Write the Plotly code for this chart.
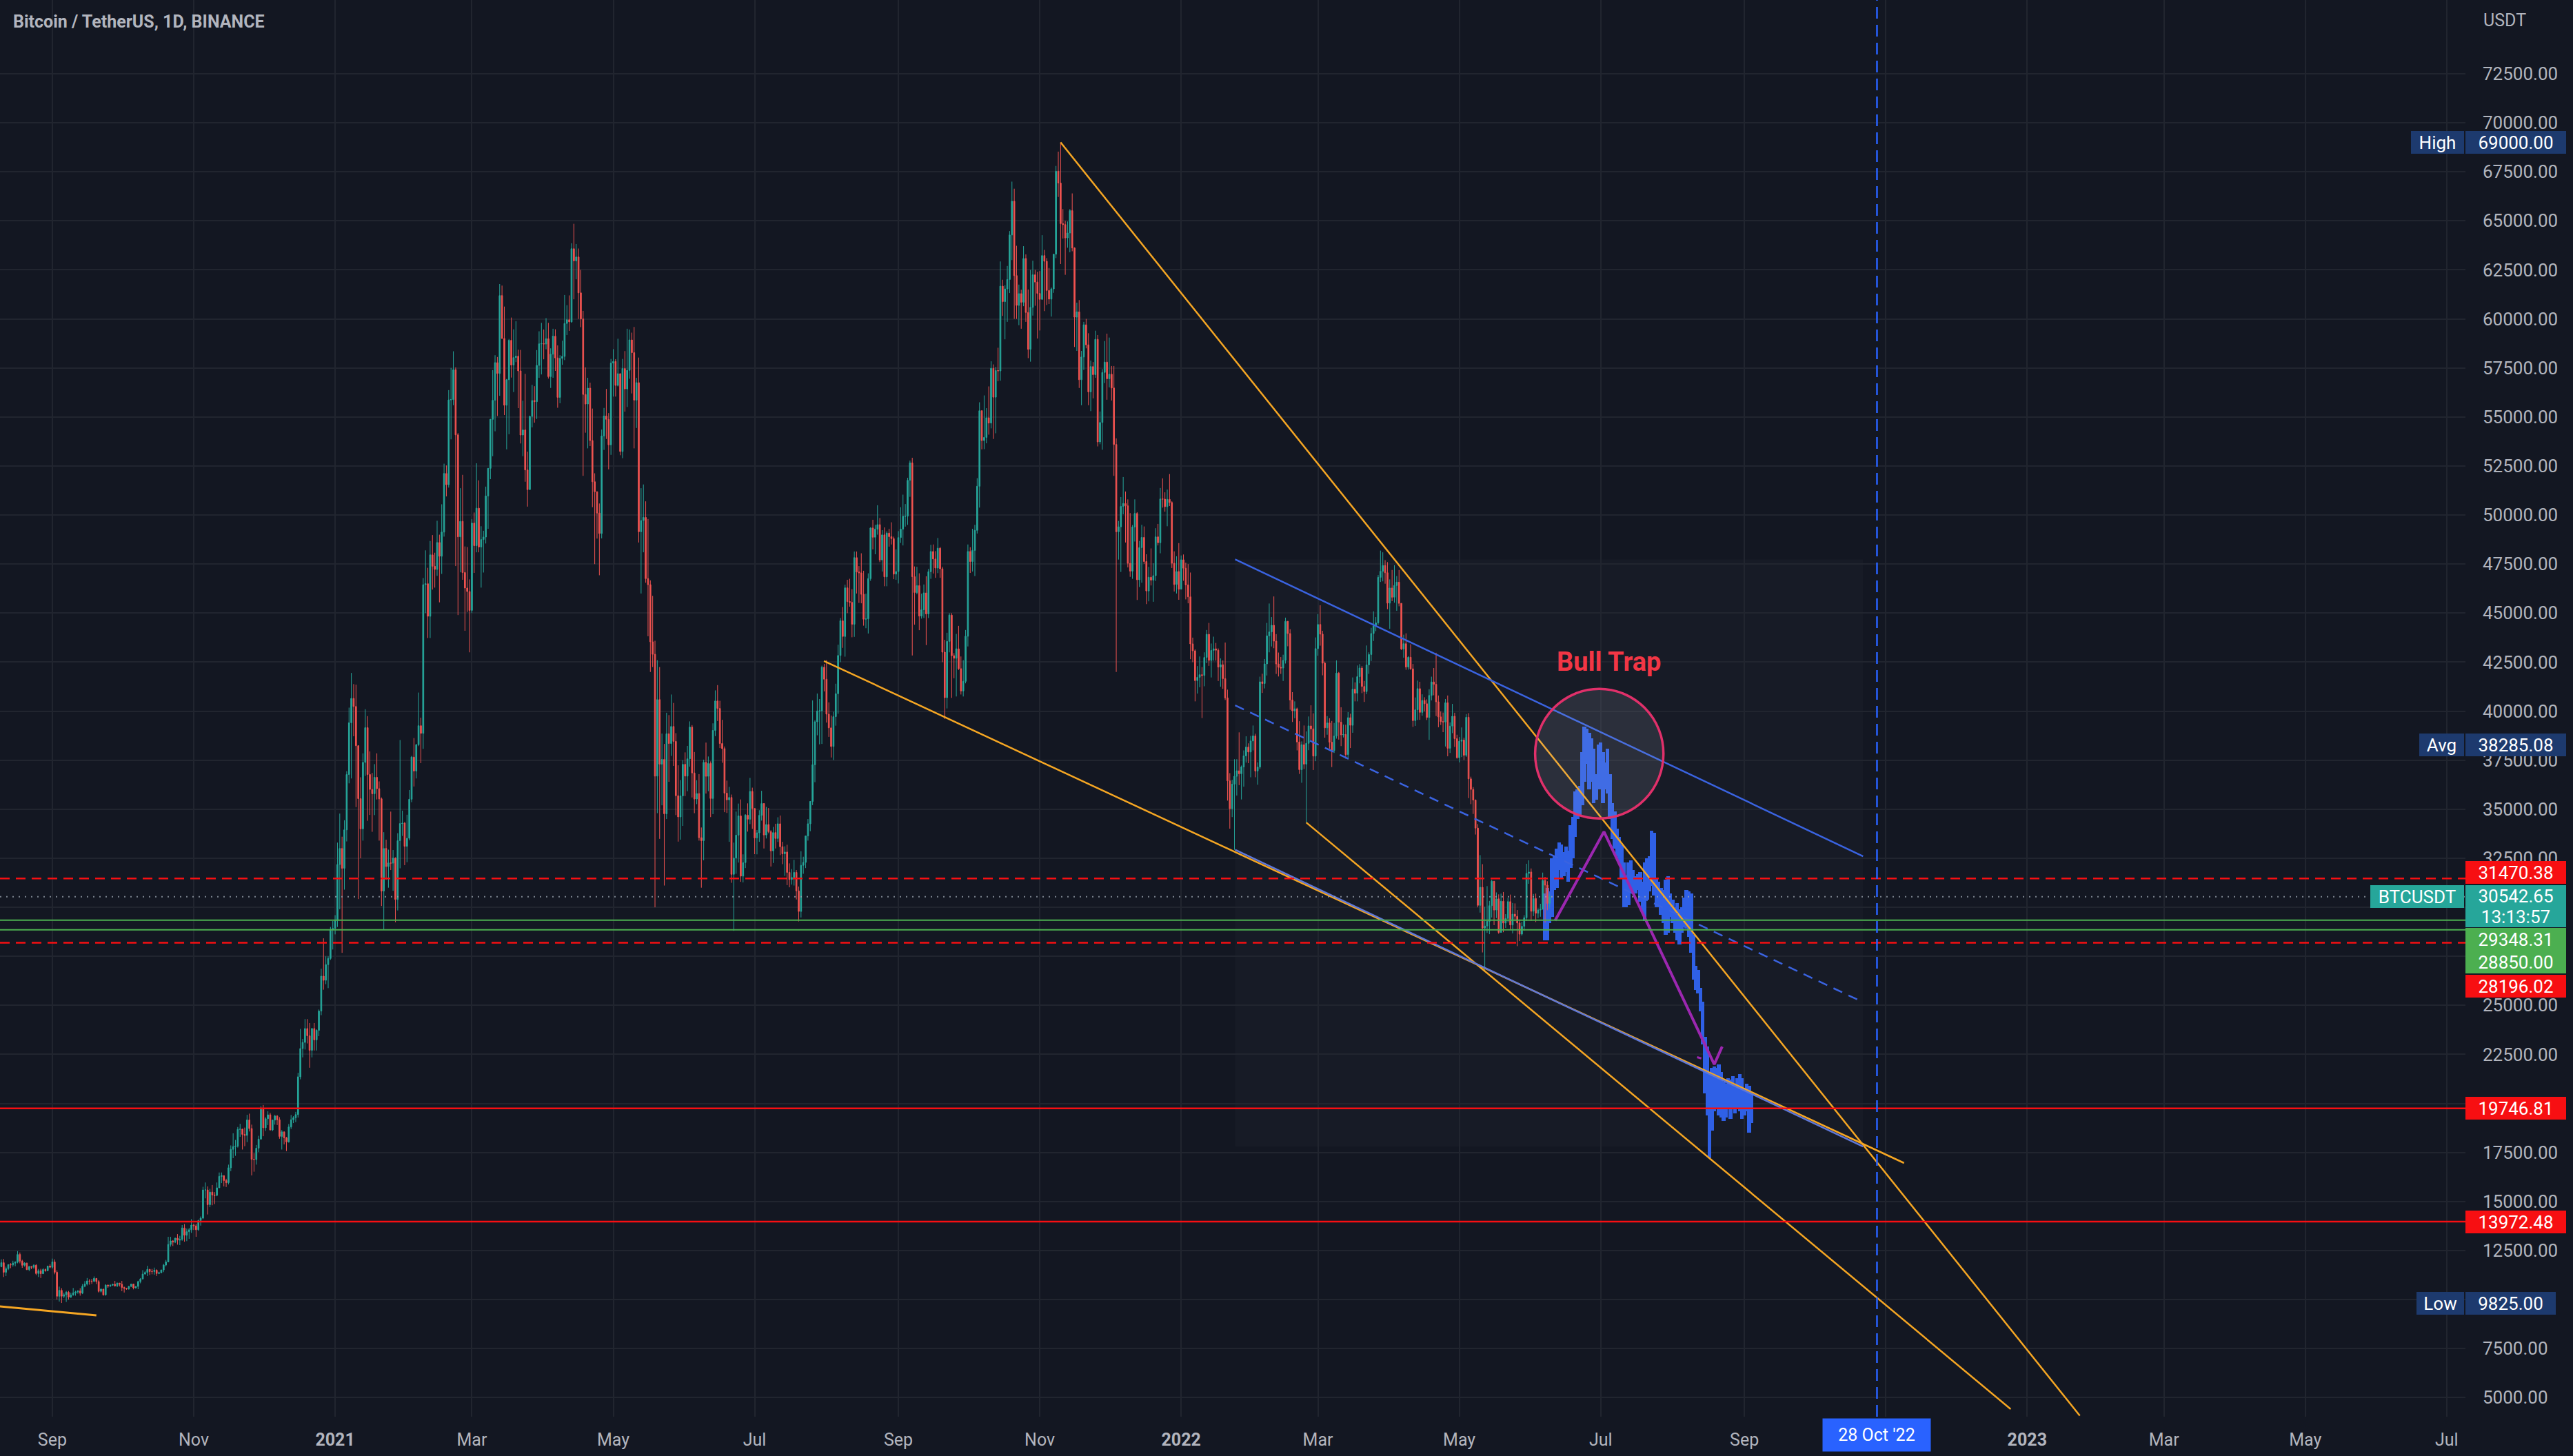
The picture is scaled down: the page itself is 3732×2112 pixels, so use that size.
import pandas as pd
import plotly.graph_objects as go

# ---------------------------------------------------------------- data
# daily BTC/USDT candles, prices in thousands of USDT, starting 2020-08-09
start_date = "2020-08-09"
first_open = 11.75
closes = [
    # 2020-08 (9..31)
    11.68, 11.88, 11.39, 11.58, 11.78, 11.77, 11.86, 11.91, 12.30, 11.96, 11.75, 11.86, 11.53, 11.68, 11.65, 11.75, 11.33, 11.47, 11.32, 11.53, 11.47, 11.71, 11.65,
    # 2020-09
    11.92, 11.39, 10.17, 10.47, 10.17, 10.25, 10.37, 10.13, 10.23, 10.34, 10.39, 10.44, 10.33, 10.68, 10.79, 10.95, 10.94, 10.93, 11.08, 10.92, 10.42, 10.53, 10.24, 10.74, 10.69, 10.73, 10.78, 10.70, 10.84, 10.78,
    # 2020-10
    10.62, 10.57, 10.55, 10.67, 10.79, 10.60, 10.67, 10.92, 11.05, 11.30, 11.38, 11.54, 11.43, 11.43, 11.50, 11.33, 11.37, 11.51, 11.76, 11.92, 12.81, 12.99, 12.93, 13.13, 13.03, 13.07, 13.65, 13.28, 13.46, 13.56, 13.80,
    # 2020-11
    13.76, 13.56, 14.03, 14.15, 15.59, 15.59, 14.84, 15.48, 15.33, 15.31, 15.70, 16.28, 16.32, 16.07, 15.96, 16.72, 17.66, 17.80, 17.82, 18.68, 18.69, 18.42, 18.37, 19.16, 18.72, 17.15, 17.14, 17.72, 18.18, 19.70,
    # 2020-12
    18.76, 19.22, 19.42, 18.65, 19.15, 19.36, 19.17, 18.32, 18.55, 18.25, 18.04, 18.80, 19.17, 19.27, 19.43, 21.36, 22.80, 23.11, 23.82, 23.45, 22.71, 23.82, 23.24, 23.73, 24.71, 26.49, 26.28, 27.08, 27.39, 28.88, 28.92,
    # 2021-01
    29.33, 32.18, 33.00, 31.99, 33.95, 36.77, 39.41, 40.65, 40.24, 38.24, 35.54, 34.00, 37.39, 39.16, 36.77, 36.01, 35.79, 36.63, 36.05, 35.53, 30.83, 33.00, 32.08, 32.26, 32.25, 32.51, 30.40, 33.40, 34.27, 34.29, 33.11,
    # 2021-02
    33.52, 35.51, 37.66, 36.95, 38.29, 39.26, 38.87, 46.45, 46.50, 44.84, 47.97, 47.39, 47.23, 48.60, 47.90, 49.13, 52.12, 51.55, 55.87, 55.89, 57.41, 54.09, 48.89, 49.68, 47.07, 46.28, 46.10, 45.14,
    # 2021-03
    49.59, 48.44, 50.35, 48.37, 48.75, 48.88, 50.97, 52.38, 54.88, 55.85, 57.77, 57.22, 61.19, 59.00, 55.60, 56.90, 58.91, 57.65, 58.03, 58.10, 57.35, 54.08, 54.34, 52.30, 51.30, 55.03, 55.84, 55.78, 57.63, 58.73, 58.74,
    # 2021-04
    58.72, 58.99, 57.06, 58.20, 59.12, 58.01, 56.00, 57.99, 58.09, 59.77, 59.96, 59.85, 63.58, 62.96, 63.16, 61.33, 60.00, 56.15, 55.66, 56.47, 53.80, 51.70, 51.19, 50.10, 49.06, 54.03, 55.05, 54.88, 53.58, 57.75,
    # 2021-05
    57.83, 56.61, 57.21, 53.24, 57.47, 56.43, 57.38, 58.93, 58.28, 55.86, 56.75, 49.15, 49.72, 49.88, 46.76, 46.45, 43.54, 42.90, 36.69, 40.59, 37.30, 37.54, 34.77, 38.85, 38.35, 39.22, 38.46, 35.69, 34.61, 35.68, 37.29,
    # 2021-06
    36.69, 37.57, 39.19, 36.85, 35.52, 35.80, 33.55, 33.40, 37.39, 36.68, 37.33, 35.55, 39.02, 40.52, 40.14, 38.35, 38.09, 35.82, 35.48, 35.60, 31.68, 32.51, 33.68, 34.66, 31.59, 32.28, 34.70, 34.49, 35.91, 35.04,
    # 2021-07
    33.54, 33.80, 34.69, 35.29, 33.69, 34.22, 33.86, 32.88, 33.81, 33.51, 34.26, 33.09, 32.73, 32.82, 31.78, 31.42, 31.52, 31.78, 30.84, 29.79, 32.14, 32.29, 33.64, 34.26, 35.40, 37.27, 39.46, 40.01, 40.02, 42.24, 41.63,
    # 2021-08
    39.85, 39.15, 38.20, 39.72, 40.89, 42.84, 44.61, 43.81, 46.29, 45.59, 45.55, 44.43, 47.83, 47.10, 47.05, 45.96, 44.69, 44.71, 46.76, 49.34, 48.87, 49.28, 49.51, 47.71, 48.99, 46.85, 49.08, 48.90, 48.80, 46.99, 47.12,
    # 2021-09
    48.85, 49.28, 49.94, 49.94, 51.77, 52.66, 46.86, 46.05, 46.40, 44.85, 45.17, 46.03, 44.96, 47.11, 48.14, 47.76, 47.30, 48.31, 47.26, 43.01, 40.69, 43.56, 44.90, 42.83, 42.70, 43.18, 42.17, 41.03, 41.52, 43.82,
    # 2021-10
    48.14, 47.63, 48.20, 49.22, 51.47, 55.32, 53.80, 53.96, 54.96, 54.69, 57.48, 56.01, 57.37, 57.35, 61.67, 60.88, 61.53, 62.01, 64.28, 66.00, 62.21, 60.69, 61.29, 60.85, 63.08, 60.33, 58.45, 60.59, 62.25, 61.88, 61.30,
    # 2021-11
    61.00, 63.23, 62.94, 61.45, 61.01, 61.53, 63.30, 67.53, 66.93, 64.86, 64.81, 64.13, 64.38, 65.52, 63.62, 60.09, 60.36, 56.90, 58.06, 59.70, 58.68, 56.28, 57.57, 57.16, 58.96, 53.73, 54.72, 57.27, 57.80, 56.95,
    # 2021-12
    57.18, 56.48, 53.60, 49.15, 49.40, 50.44, 50.59, 50.47, 47.54, 47.14, 49.39, 50.08, 46.70, 48.34, 48.86, 47.63, 46.13, 46.83, 46.68, 46.91, 48.89, 48.59, 50.82, 50.81, 50.43, 50.80, 50.64, 47.54, 46.46, 47.12, 46.22,
    # 2022-01
    47.72, 47.29, 46.44, 45.83, 43.43, 43.08, 41.56, 41.73, 41.86, 41.82, 42.74, 43.92, 42.59, 43.10, 43.18, 43.11, 42.25, 42.37, 41.66, 40.68, 36.45, 35.03, 36.28, 36.68, 36.96, 36.81, 37.16, 37.72, 38.17, 37.92, 38.48,
    # 2022-02
    38.74, 36.95, 37.15, 41.50, 41.41, 42.41, 43.84, 44.04, 44.38, 43.57, 42.41, 42.24, 42.20, 42.59, 44.58, 43.96, 40.57, 40.02, 40.12, 38.43, 37.02, 38.29, 37.30, 38.36, 39.25, 39.10, 37.71, 43.19,
    # 2022-03
    44.42, 43.93, 42.45, 39.15, 39.40, 38.42, 37.99, 38.73, 41.94, 39.44, 38.79, 38.81, 37.79, 39.67, 39.28, 41.12, 40.92, 41.76, 42.20, 41.26, 41.00, 42.36, 42.89, 43.96, 44.35, 44.50, 46.82, 47.13, 47.43, 47.06, 45.51,
    # 2022-04
    46.28, 45.81, 46.41, 46.58, 45.50, 43.17, 43.44, 42.25, 42.75, 42.16, 39.52, 40.07, 41.15, 39.94, 40.55, 40.38, 39.68, 40.80, 41.49, 41.37, 40.48, 39.71, 39.47, 39.45, 40.43, 38.11, 39.24, 39.74, 38.60, 37.63,
    # 2022-05
    38.47, 38.53, 37.75, 39.69, 36.55, 36.01, 35.47, 34.04, 30.10, 31.02, 28.94, 29.05, 29.28, 30.08, 31.33, 29.86, 30.43, 28.72, 30.31, 29.20, 29.43, 30.29, 29.10, 29.65, 29.54, 29.20, 28.63, 29.03, 29.47, 31.73, 31.80,
    # 2022-06 (1..9)
    29.80, 30.45, 29.70, 29.86, 29.91, 31.37, 31.13, 30.20, 30.54265,
]
highs = [
    11.80, 12.05, 12.07, 11.68, 11.80, 11.86, 11.98, 11.95, 12.47, 12.40, 12.03, 11.90, 11.88, 11.72, 11.71, 11.80, 11.80, 11.56, 11.57, 11.60, 11.58, 11.72, 11.80,
    12.09, 12.05, 11.49, 10.66, 10.58, 10.35, 10.44, 10.44, 10.35, 10.59, 10.45, 10.48, 10.58, 10.79, 10.94, 11.10, 11.04, 11.05, 11.18, 11.08, 10.99, 10.58, 10.55, 10.78, 10.76, 10.78, 10.80, 10.95, 10.86, 10.85,
    10.95, 10.66, 10.60, 10.70, 10.80, 10.80, 10.68, 10.96, 11.10, 11.50, 11.45, 11.72, 11.56, 11.56, 11.63, 11.54, 11.42, 11.52, 11.82, 12.02, 13.20, 13.20, 13.03, 13.15, 13.34, 13.25, 13.80, 13.85, 13.62, 13.65, 14.10,
    13.86, 13.86, 14.07, 14.24, 15.75, 15.97, 15.77, 15.65, 15.84, 15.48, 15.97, 16.48, 16.48, 16.33, 16.16, 16.88, 17.86, 18.48, 18.14, 18.80, 18.96, 18.70, 18.77, 19.42, 19.48, 18.92, 17.46, 17.88, 18.35, 19.86,
    19.92, 19.30, 19.60, 19.52, 19.17, 19.42, 19.40, 19.30, 18.64, 18.56, 18.29, 18.95, 19.41, 19.35, 19.57, 21.56, 23.80, 23.29, 24.30, 24.30, 24.10, 23.84, 24.10, 23.78, 24.79, 26.87, 28.42, 27.50, 27.50, 29.00, 29.30,
    29.60, 33.30, 34.78, 33.60, 34.44, 36.94, 40.18, 41.95, 41.38, 41.35, 38.26, 36.63, 37.85, 40.10, 39.75, 37.95, 36.85, 37.30, 37.85, 36.42, 35.60, 33.83, 33.45, 32.94, 34.88, 32.92, 32.55, 33.78, 38.53, 34.93, 34.35,
    34.72, 35.98, 37.72, 38.63, 38.33, 40.95, 39.67, 46.79, 48.20, 47.31, 48.68, 48.98, 48.08, 49.71, 49.00, 50.55, 52.62, 52.53, 56.37, 57.50, 58.35, 57.53, 54.18, 51.37, 52.05, 48.40, 48.37, 46.72,
    49.79, 50.13, 52.64, 51.77, 49.43, 49.20, 51.45, 52.40, 54.90, 57.39, 58.15, 58.06, 61.78, 61.70, 60.63, 56.94, 58.98, 60.07, 59.47, 59.88, 58.43, 58.42, 55.83, 57.20, 53.23, 55.07, 56.64, 56.57, 58.41, 59.37, 59.80,
    59.46, 60.04, 59.80, 58.50, 59.50, 59.47, 58.65, 58.15, 58.89, 61.22, 60.70, 61.20, 63.86, 64.85, 63.82, 63.59, 62.50, 60.41, 57.53, 57.00, 56.75, 55.43, 52.13, 51.17, 50.59, 54.36, 55.46, 56.43, 55.20, 57.96,
    58.46, 57.95, 58.99, 57.20, 57.96, 58.36, 59.50, 59.46, 59.30, 59.59, 57.00, 58.03, 51.37, 51.56, 50.70, 49.80, 46.67, 45.88, 43.59, 42.60, 42.25, 38.86, 38.33, 39.92, 39.80, 40.85, 40.42, 38.88, 37.24, 36.49, 37.50,
    37.90, 38.23, 39.48, 39.29, 37.92, 36.48, 36.79, 34.07, 37.53, 38.40, 37.69, 37.44, 39.38, 41.06, 41.33, 40.53, 39.56, 38.20, 36.46, 36.14, 35.75, 33.30, 34.88, 35.29, 35.50, 32.70, 34.75, 35.30, 36.60, 36.10,
    35.04, 33.94, 34.95, 35.94, 35.29, 35.12, 35.06, 33.93, 34.10, 34.26, 34.59, 34.68, 33.34, 33.11, 33.19, 32.24, 31.95, 32.42, 31.90, 31.06, 32.86, 32.58, 33.65, 34.50, 35.40, 40.55, 39.54, 40.90, 40.62, 42.32, 42.41,
    42.60, 40.45, 39.78, 39.97, 41.40, 43.39, 44.75, 45.31, 46.45, 46.70, 46.75, 46.22, 48.14, 48.14, 47.40, 48.05, 47.16, 45.99, 47.03, 49.38, 49.76, 49.50, 50.50, 49.85, 49.23, 49.37, 49.17, 49.30, 49.63, 48.90, 48.25,
    49.18, 50.40, 51.04, 50.56, 51.90, 52.78, 52.92, 47.38, 47.36, 47.03, 45.99, 46.46, 46.88, 47.25, 48.48, 48.50, 48.16, 48.83, 48.37, 47.36, 43.64, 44.00, 45.00, 45.00, 42.96, 43.94, 44.35, 42.79, 42.60, 44.14,
    48.50, 48.36, 49.30, 49.50, 51.88, 55.75, 55.33, 56.10, 55.45, 56.56, 57.84, 57.68, 57.55, 58.53, 62.93, 62.00, 61.72, 62.70, 64.48, 67.00, 66.64, 63.73, 61.75, 61.49, 63.71, 63.29, 61.50, 62.50, 62.97, 62.50, 62.40,
    62.44, 64.27, 63.52, 63.10, 62.60, 61.60, 63.30, 67.80, 68.53, 69.00, 65.60, 65.00, 64.97, 65.60, 66.40, 63.65, 60.83, 60.96, 58.37, 59.85, 60.00, 59.27, 57.88, 57.80, 59.40, 59.18, 55.28, 57.44, 58.87, 59.25,
    59.05, 57.60, 57.60, 53.91, 49.70, 50.92, 51.94, 51.20, 50.80, 50.10, 49.49, 50.80, 50.15, 48.68, 49.50, 49.42, 48.00, 47.36, 48.30, 47.54, 49.33, 49.55, 51.38, 51.87, 51.16, 51.30, 52.09, 50.70, 48.15, 47.90, 48.57,
    47.94, 47.99, 47.57, 47.50, 47.07, 43.75, 43.15, 42.30, 42.79, 42.25, 43.00, 44.14, 44.50, 43.45, 43.80, 43.48, 43.20, 42.69, 42.59, 43.50, 41.10, 36.84, 36.50, 37.55, 37.55, 38.92, 37.23, 38.00, 38.72, 38.36, 38.74,
    39.27, 38.85, 37.39, 41.76, 41.91, 42.66, 44.50, 45.49, 44.80, 45.85, 43.93, 42.99, 42.76, 42.88, 44.77, 44.60, 44.18, 40.97, 40.50, 40.18, 39.49, 38.46, 39.27, 38.97, 39.73, 40.30, 39.89, 43.76,
    44.95, 45.40, 44.10, 42.53, 39.75, 39.64, 39.50, 39.40, 42.59, 42.00, 40.20, 39.32, 39.31, 39.95, 39.87, 41.72, 41.47, 42.33, 42.40, 42.30, 41.54, 43.35, 43.00, 44.25, 45.09, 44.80, 46.94, 48.19, 48.10, 47.70, 47.60,
    46.72, 47.20, 47.44, 46.89, 47.20, 45.50, 43.90, 43.97, 42.80, 43.41, 42.41, 40.70, 41.56, 41.50, 40.86, 40.71, 40.60, 41.12, 41.76, 42.20, 42.98, 40.80, 39.99, 39.93, 40.62, 40.80, 39.43, 40.37, 39.92, 38.80,
    38.68, 39.17, 38.65, 39.85, 39.90, 36.66, 36.13, 35.50, 34.24, 32.66, 32.20, 30.03, 31.08, 30.33, 31.41, 31.32, 30.76, 30.66, 30.70, 30.78, 29.65, 30.48, 30.65, 30.22, 30.20, 29.86, 29.38, 29.26, 29.60, 32.22, 32.40,
    31.98, 30.68, 30.70, 29.95, 30.18, 31.77, 31.55, 31.33, 30.70,
]
lows = [
    11.55, 11.65, 11.15, 11.20, 11.50, 11.60, 11.68, 11.70, 11.85, 11.85, 11.62, 11.68, 11.50, 11.45, 11.55, 11.57, 11.25, 11.15, 11.10, 11.30, 11.42, 11.46, 11.60,
    11.58, 11.29, 10.00, 9.90, 9.825, 10.08, 9.88, 10.00, 10.08, 10.20, 10.20, 10.30, 10.20, 10.28, 10.63, 10.72, 10.76, 10.80, 10.89, 10.79, 10.36, 10.36, 10.20, 10.20, 10.60, 10.64, 10.70, 10.66, 10.64, 10.67,
    10.43, 10.36, 10.50, 10.50, 10.64, 10.52, 10.56, 10.53, 10.83, 11.05, 11.28, 11.20, 11.25, 11.29, 11.27, 11.20, 11.30, 11.34, 11.40, 11.69, 11.90, 12.70, 12.73, 12.88, 12.80, 12.78, 13.00, 12.95, 12.98, 13.10, 13.40,
    13.55, 13.20, 13.51, 13.77, 14.10, 15.16, 14.34, 14.71, 14.81, 14.87, 15.27, 15.73, 15.94, 15.77, 15.74, 15.87, 16.55, 17.21, 17.33, 17.75, 18.30, 17.65, 17.82, 18.03, 18.57, 16.33, 16.52, 16.88, 17.52, 18.17,
    18.33, 18.60, 18.90, 18.62, 18.59, 18.92, 18.90, 18.20, 17.65, 17.91, 17.57, 18.00, 18.70, 19.00, 19.05, 19.28, 21.23, 22.35, 22.75, 23.06, 21.82, 22.35, 22.70, 22.70, 23.43, 24.50, 25.80, 26.08, 25.88, 27.32, 27.85,
    28.62, 29.00, 29.90, 27.68, 30.90, 33.36, 36.32, 36.57, 38.72, 35.11, 30.42, 32.50, 33.40, 36.70, 34.41, 34.71, 33.85, 34.70, 35.50, 33.40, 30.07, 28.85, 31.40, 31.00, 31.90, 30.84, 29.24, 29.84, 31.99, 33.64, 32.15,
    32.30, 33.42, 35.36, 36.16, 36.57, 38.22, 37.35, 38.08, 45.00, 43.73, 43.73, 46.20, 46.30, 46.90, 45.55, 47.00, 48.90, 50.95, 51.40, 53.86, 55.60, 47.40, 44.90, 47.08, 46.70, 44.10, 45.06, 43.00,
    45.00, 47.05, 48.10, 48.10, 46.30, 47.07, 48.55, 49.30, 51.83, 53.00, 54.27, 55.05, 56.08, 59.00, 55.10, 53.35, 54.12, 57.01, 56.27, 57.80, 55.45, 53.65, 53.00, 51.70, 50.43, 51.30, 54.47, 54.71, 54.90, 57.00, 57.17,
    57.94, 58.45, 56.96, 56.48, 57.00, 57.35, 55.47, 55.70, 57.66, 57.90, 59.18, 59.39, 59.81, 61.00, 62.02, 60.00, 59.58, 52.00, 54.20, 53.40, 53.52, 50.40, 47.50, 48.80, 46.93, 48.81, 53.32, 53.88, 52.33, 53.07,
    56.04, 56.04, 56.56, 53.05, 52.90, 55.27, 55.51, 56.95, 56.20, 53.40, 54.44, 48.60, 46.00, 48.10, 46.55, 43.82, 42.00, 42.25, 30.00, 34.80, 33.49, 35.20, 31.11, 34.50, 36.40, 37.72, 37.21, 34.70, 33.35, 33.45, 34.15,
    35.67, 35.92, 37.17, 35.60, 34.80, 35.26, 33.40, 31.00, 32.40, 35.80, 35.92, 34.60, 34.75, 38.73, 39.50, 38.12, 37.37, 34.85, 34.81, 33.34, 31.25, 28.80, 31.71, 32.28, 31.30, 31.27, 32.00, 33.86, 34.24, 34.00,
    32.71, 32.70, 33.34, 34.42, 33.00, 33.51, 33.78, 32.08, 32.26, 33.00, 33.33, 32.66, 32.20, 31.60, 31.13, 31.02, 31.16, 31.11, 30.40, 29.28, 29.48, 31.71, 32.00, 33.40, 33.88, 35.21, 36.38, 38.77, 38.31, 38.33, 41.01,
    39.42, 38.69, 37.64, 37.51, 39.26, 39.87, 42.50, 43.23, 42.78, 45.00, 45.33, 43.77, 43.79, 46.00, 45.52, 45.50, 44.36, 44.23, 43.96, 46.65, 48.25, 48.00, 49.00, 47.60, 47.12, 46.37, 46.37, 48.39, 48.50, 46.73, 46.70,
    46.51, 48.58, 48.45, 49.41, 49.50, 50.93, 42.84, 44.41, 45.96, 44.13, 44.72, 44.75, 43.37, 44.75, 46.75, 47.02, 46.80, 47.04, 46.80, 42.50, 39.60, 40.14, 43.00, 40.68, 41.68, 40.75, 42.10, 40.85, 40.75, 41.42,
    43.30, 47.05, 47.12, 46.89, 49.06, 50.38, 53.35, 53.36, 53.66, 54.10, 54.42, 53.88, 54.17, 56.82, 56.85, 60.15, 58.96, 59.85, 61.32, 63.00, 60.00, 60.00, 59.68, 59.50, 60.65, 59.85, 58.00, 57.82, 60.17, 60.67, 59.00,
    59.41, 60.97, 60.40, 60.71, 60.76, 60.12, 61.33, 63.10, 66.22, 62.80, 64.10, 62.25, 63.63, 63.40, 63.45, 58.57, 58.37, 56.48, 55.60, 57.40, 58.50, 55.60, 55.30, 55.95, 57.00, 53.50, 53.61, 53.33, 56.73, 55.88,
    56.51, 55.84, 52.00, 42.00, 47.73, 47.10, 50.04, 48.60, 47.33, 46.85, 46.75, 48.65, 45.67, 46.33, 46.55, 47.51, 45.46, 45.60, 46.41, 45.58, 46.64, 48.45, 48.05, 50.38, 50.17, 49.43, 50.46, 47.30, 46.10, 46.00, 45.68,
    46.21, 46.65, 45.70, 45.50, 42.65, 42.50, 40.50, 40.90, 41.22, 39.65, 41.27, 42.45, 42.31, 41.72, 42.58, 42.58, 41.54, 41.25, 41.14, 40.57, 35.44, 34.01, 34.60, 32.93, 35.70, 36.23, 35.50, 36.15, 37.38, 37.35, 36.63,
    38.00, 36.63, 36.25, 37.05, 40.93, 41.16, 41.82, 43.00, 43.30, 43.21, 41.90, 41.77, 41.90, 41.54, 42.43, 43.31, 40.07, 39.45, 39.64, 38.00, 36.80, 36.35, 37.05, 34.32, 38.01, 38.53, 37.00, 37.45,
    42.83, 43.34, 41.83, 38.65, 38.80, 38.09, 37.15, 37.87, 38.60, 38.55, 38.22, 38.66, 37.58, 37.56, 38.12, 38.90, 40.50, 40.50, 41.42, 40.92, 40.47, 40.87, 41.90, 42.56, 43.58, 44.08, 44.40, 46.59, 46.62, 46.50, 45.20,
    44.20, 45.61, 45.53, 45.12, 45.35, 43.12, 42.73, 42.11, 42.12, 42.11, 39.20, 39.25, 39.55, 39.56, 39.77, 39.99, 39.55, 38.54, 40.55, 40.81, 39.75, 39.18, 39.30, 38.93, 38.20, 37.70, 37.87, 38.88, 38.18, 37.58,
    37.39, 37.66, 37.51, 37.67, 35.57, 35.26, 34.76, 33.71, 30.00, 29.73, 27.70, 26.70, 28.70, 28.63, 29.48, 29.09, 29.45, 28.65, 28.71, 28.73, 28.95, 29.23, 28.85, 28.67, 29.29, 28.02, 28.28, 28.56, 28.81, 29.30, 31.20,
    29.30, 29.55, 29.25, 29.45, 29.52, 29.88, 29.22, 29.85, 29.94,
]

# projected "bars pattern" (blue), thousands USDT, one bar per day from proj_start
proj_start = "2022-06-07"
proj_highs = [
    30.7, 31.0, 30.8, 32.5, 32.6, 33.0, 33.3, 33.2, 32.8, 33.1,
    32.9, 34.2, 34.6, 35.9, 36.0, 36.2, 37.9, 39.2, 39.1, 38.9,
    38.6, 38.1, 36.8, 38.3, 38.4, 37.9, 37.4, 38.1, 36.8, 35.3,
    34.9, 34.0, 33.6, 33.2, 32.3, 31.6, 32.3, 32.4, 31.9, 31.6,
    31.7, 31.8, 31.3, 32.3, 32.5, 32.6, 33.9, 33.8, 31.5, 31.3,
    31.0, 30.9, 31.4, 31.6, 30.7, 30.4, 30.0, 30.2, 29.9, 30.0,
    30.5, 30.9, 30.8, 30.7, 28.6, 27.0, 26.8, 25.9, 25.2, 23.4,
    22.9, 21.5, 21.8, 21.9, 21.8, 22.0, 21.6, 21.1, 21.0, 21.3,
    21.2, 21.4, 20.9, 21.3, 21.5, 21.3, 20.8, 21.0, 20.9, 20.6,
]
proj_lows = [
    28.3, 28.3, 29.2, 29.5, 30.9, 31.0, 31.9, 31.5, 31.6, 31.8,
    31.3, 32.0, 32.5, 33.6, 34.5, 34.7, 35.2, 36.4, 37.3, 36.0,
    36.4, 35.3, 35.5, 36.0, 36.0, 35.3, 36.0, 35.8, 34.5, 33.5,
    33.0, 32.6, 32.3, 31.5, 30.0, 30.0, 30.1, 31.0, 30.8, 30.7,
    30.9, 30.3, 29.8, 29.3, 30.4, 30.8, 31.1, 30.6, 30.0, 30.0,
    29.6, 29.2, 28.6, 28.7, 29.5, 29.2, 28.7, 28.3, 28.1, 28.7,
    29.0, 28.9, 28.5, 27.7, 26.3, 25.8, 25.6, 24.7, 23.0, 20.5,
    19.4, 17.2, 18.6, 19.6, 19.7, 19.4, 19.3, 19.1, 19.3, 19.7,
    19.2, 19.7, 19.5, 19.7, 19.6, 19.2, 19.4, 19.6, 18.5, 19.0,
]

# price-scale values
current_price = 30542.65
countdown = "13:13:57"
range_high = 69000.00
range_avg = 38285.08
range_low = 9825.00
red_dashed_levels = [31470.38, 28196.02]
green_levels = [29348.31, 28850.00]
red_solid_levels = [19746.81, 13972.48]
marker_date = "2022-10-28 05:00"
marker_label = "28 Oct '22"

# drawn trend lines: (dates, prices)
orange_ath_x = ["2021-11-10", "2023-01-23 17:00"]
orange_ath_y = [69000, 4082]
orange_mid_x = ["2021-07-30 22:00", "2022-11-08 21:00"]
orange_mid_y = [42560, 16963]
orange_low_x = ["2022-02-24", "2022-12-24 21:00"]
orange_low_y = [34322, 4417]
orange_old_x = ["2020-08-09", "2020-09-20"]
orange_old_y = [9653, 9196]
channel_x = ["2022-01-24 07:00", "2022-10-22 05:00"]
channel_top_y = [47742, 32604]
channel_mid_y = [40298, 25160]
channel_bot_y = [32933, 17800]
zigzag_x = ["2022-06-11 08:00", "2022-07-02 10:00", "2022-08-19", "2022-08-22 10:00"]
zigzag_y = [29330, 33856, 21994, 22901]
zigzag_tick_x = ["2022-08-11 14:00", "2022-08-13 10:00"]
zigzag_tick_y = [22359, 22299]
trap_circle_x = ["2022-06-02 17:00", "2022-07-28 02:00"]
trap_circle_y = [34527, 41135]
trap_text = "Bull Trap"
trap_text_x = "2022-07-04 10:00"
trap_text_y = 42518

# axis ticks
x_tick_dates = ["2020-09-01", "2020-11-01", "2021-01-01", "2021-03-01", "2021-05-01", "2021-07-01",
                "2021-09-01", "2021-11-01", "2022-01-01", "2022-03-01", "2022-05-01", "2022-07-01",
                "2022-09-01", "2022-11-01", "2023-01-01", "2023-03-01", "2023-05-01", "2023-07-01"]
x_tick_labels = ["Sep", "Nov", "2021", "Mar", "May", "Jul", "Sep", "Nov", "2022", "Mar", "May", "Jul",
                 "Sep", "", "2023", "Mar", "May", "Jul"]
y_tick_values = list(range(5000, 72501, 2500))
y_hidden_ticks = [30000, 27500, 20000, 10000]

# ---------------------------------------------------------------- styling
BG = "#131722"
GRID = "#21252f"
TXT = "#B2B5BE"
UP = "#26a69a"
DOWN = "#ef5350"
ORANGE = "#F5A623"
BLUE = "#3A63E0"
PROJ = "#2F60E6"
PURPLE = "#9C27B0"
RED = "#F70F12"
GREEN = "#4CAF50"
NAVY = "#1D3A6E"
FONT = "Roboto, 'Liberation Sans', sans-serif"
K = 1000.0

assert len(closes) == len(highs) == len(lows)
assert len(proj_highs) == len(proj_lows)

dates = pd.date_range(start_date, periods=len(closes), freq="D")
c = [v * K for v in closes]
h = [v * K for v in highs]
l = [v * K for v in lows]
o = [first_open * K] + c[:-1]

proj_dates = pd.date_range(proj_start, periods=len(proj_highs), freq="D")
p_lo = [v * K for v in proj_lows]
p_span = [(hv - lv) * K for hv, lv in zip(proj_highs, proj_lows)]

fig = go.Figure()

fig.add_trace(go.Candlestick(
    x=dates, open=o, high=h, low=l, close=c,
    increasing=dict(line=dict(color=UP, width=1), fillcolor=UP),
    decreasing=dict(line=dict(color=DOWN, width=1), fillcolor=DOWN),
    whiskerwidth=0, hoverinfo="skip", showlegend=False))


def add_line(xs, ys, color, width=2.5, dash=None):
    fig.add_trace(go.Scatter(x=xs, y=ys, mode="lines", hoverinfo="skip", showlegend=False,
                             line=dict(color=color, width=width, dash=dash)))


add_line(orange_old_x, orange_old_y, ORANGE, 3)
add_line(orange_ath_x, orange_ath_y, ORANGE)
add_line(orange_mid_x, orange_mid_y, ORANGE)
add_line(orange_low_x, orange_low_y, ORANGE)
add_line(channel_x, channel_top_y, BLUE)
add_line(channel_x, channel_mid_y, BLUE, 2.5, "14px,10px")
add_line(channel_x, channel_bot_y, "#5F78D8")

fig.add_trace(go.Bar(x=proj_dates, y=p_span, base=p_lo, width=1.6 * 86400000,
                     marker=dict(color=PROJ, line=dict(width=0)), hoverinfo="skip", showlegend=False))

add_line(zigzag_x, zigzag_y, PURPLE, 4)
add_line(zigzag_tick_x, zigzag_tick_y, PURPLE, 3)

shapes = []
# channel background
shapes.append(dict(type="rect", xref="x", yref="y", x0=channel_x[0], x1=channel_x[1],
                   y0=channel_bot_y[1], y1=channel_top_y[0], line=dict(width=0),
                   fillcolor="rgba(255,255,255,0.018)", layer="below"))
for lv in red_dashed_levels:
    shapes.append(dict(type="line", xref="paper", yref="y", x0=0, x1=1, y0=lv, y1=lv,
                       line=dict(color=RED, width=2.5, dash="14px,9px"), layer="above"))
for lv in green_levels:
    shapes.append(dict(type="line", xref="paper", yref="y", x0=0, x1=1, y0=lv, y1=lv,
                       line=dict(color=GREEN, width=2), layer="above"))
for lv in red_solid_levels:
    shapes.append(dict(type="line", xref="paper", yref="y", x0=0, x1=1, y0=lv, y1=lv,
                       line=dict(color=RED, width=2.5), layer="above"))
shapes.append(dict(type="line", xref="paper", yref="y", x0=0, x1=1, y0=current_price, y1=current_price,
                   line=dict(color="rgba(160,170,180,0.75)", width=2, dash="2px,7px"), layer="above"))
shapes.append(dict(type="line", xref="x", yref="paper", x0=marker_date, x1=marker_date, y0=0, y1=1,
                   line=dict(color="#2962FF", width=2.5, dash="17px,9px"), layer="above"))
shapes.append(dict(type="circle", xref="x", yref="y", x0=trap_circle_x[0], x1=trap_circle_x[1],
                   y0=trap_circle_y[0], y1=trap_circle_y[1], line=dict(color="#E0306A", width=3.5),
                   fillcolor="rgba(190,195,215,0.12)", layer="above"))

annotations = []


def value_box(y, text, bg, width=146, height=33, yshift=0):
    annotations.append(dict(xref="paper", yref="y", x=1, y=y, xanchor="left", yanchor="middle",
                            text=text, showarrow=False, bgcolor=bg, width=width, height=height,
                            align="center", valign="middle", borderpad=0, borderwidth=0,
                            yshift=yshift, font=dict(family=FONT, size=26, color="#FFFFFF")))


def tag_box(y, text, bg, width, height=33, yshift=0):
    annotations.append(dict(xref="paper", yref="y", x=1, y=y, xanchor="right", yanchor="middle",
                            xshift=-2, text=text, showarrow=False, bgcolor=bg, width=width,
                            height=height, align="center", valign="middle", borderpad=0,
                            borderwidth=0, yshift=yshift,
                            font=dict(family=FONT, size=26, color="#FFFFFF")))


tag_box(range_high, "High", NAVY, 77)
value_box(range_high, f"{range_high:.2f}", NAVY)
tag_box(range_avg, "Avg", NAVY, 65)
value_box(range_avg, f"{range_avg:.2f}", NAVY)
tag_box(range_low, "Low", NAVY, 69)
value_box(range_low, f"{range_low:.2f}", NAVY, width=131)

value_box(red_dashed_levels[0], f"{red_dashed_levels[0]:.2f}", RED, yshift=8.6)
tag_box(current_price, "BTCUSDT", UP, 136)
value_box(current_price, f"{current_price:.2f}", UP, height=31, yshift=1.4)
value_box(current_price, countdown, UP, height=31, yshift=-29.3)
value_box(green_levels[0], f"{green_levels[0]:.2f}", GREEN, yshift=-27.8)
value_box(green_levels[1], f"{green_levels[1]:.2f}", GREEN, yshift=-47.1)
value_box(red_dashed_levels[1], f"{red_dashed_levels[1]:.2f}", RED, yshift=-62.6)
for lv in red_solid_levels:
    value_box(lv, f"{lv:.2f}", RED)

annotations.append(dict(xref="x", yref="paper", x=marker_date, y=0, xanchor="center", yanchor="top",
                        yshift=-2, text=marker_label, showarrow=False, bgcolor="#2962FF", width=156,
                        height=47, borderpad=0, font=dict(family=FONT, size=25, color="#FFFFFF")))
annotations.append(dict(xref="x", yref="y", x=trap_text_x, y=trap_text_y, text=f"<b>{trap_text}</b>",
                        showarrow=False, font=dict(family=FONT, size=38, color="#F23645")))
annotations.append(dict(xref="paper", yref="paper", x=17 / 3576, y=1, xanchor="left", yanchor="middle",
                        yshift=-31, text="<b>Bitcoin / TetherUS, 1D, BINANCE</b>", showarrow=False,
                        font=dict(family=FONT, size=25, color=TXT)))
annotations.append(dict(xref="paper", yref="paper", x=1, y=1, xanchor="left", yanchor="middle",
                        xshift=24, yshift=-29, text="USDT", showarrow=False,
                        font=dict(family=FONT, size=25, color=TXT)))

x_text = [f"<b>{t}</b>" if t.isdigit() else t for t in x_tick_labels]
y_text = ["" if v in y_hidden_ticks else f"{v:.2f}" for v in y_tick_values]

fig.update_layout(
    width=3732, height=2112,
    margin=dict(l=0, r=156, t=0, b=57),
    paper_bgcolor=BG, plot_bgcolor=BG,
    showlegend=False, hovermode=False, bargap=0,
    font=dict(family=FONT, color=TXT),
    shapes=shapes, annotations=annotations,
    xaxis=dict(type="date", range=["2020-08-09 10:00", "2023-07-09 02:00"],
               tickmode="array", tickvals=x_tick_dates, ticktext=x_text,
               showgrid=True, gridcolor=GRID, gridwidth=1.5, zeroline=False, showline=False,
               ticks="", ticklabelstandoff=16, tickfont=dict(size=25, color=TXT, family=FONT),
               rangeslider=dict(visible=False), fixedrange=True),
    yaxis=dict(side="right", range=[4028, 76261], tickmode="array", tickvals=y_tick_values,
               ticktext=y_text, showgrid=True, gridcolor=GRID, gridwidth=1.5, zeroline=False,
               showline=False, ticks="", ticklabelstandoff=24,
               tickfont=dict(size=26, color=TXT, family=FONT), fixedrange=True),
)

fig.write_html("out.html", config={"displayModeBar": False})
